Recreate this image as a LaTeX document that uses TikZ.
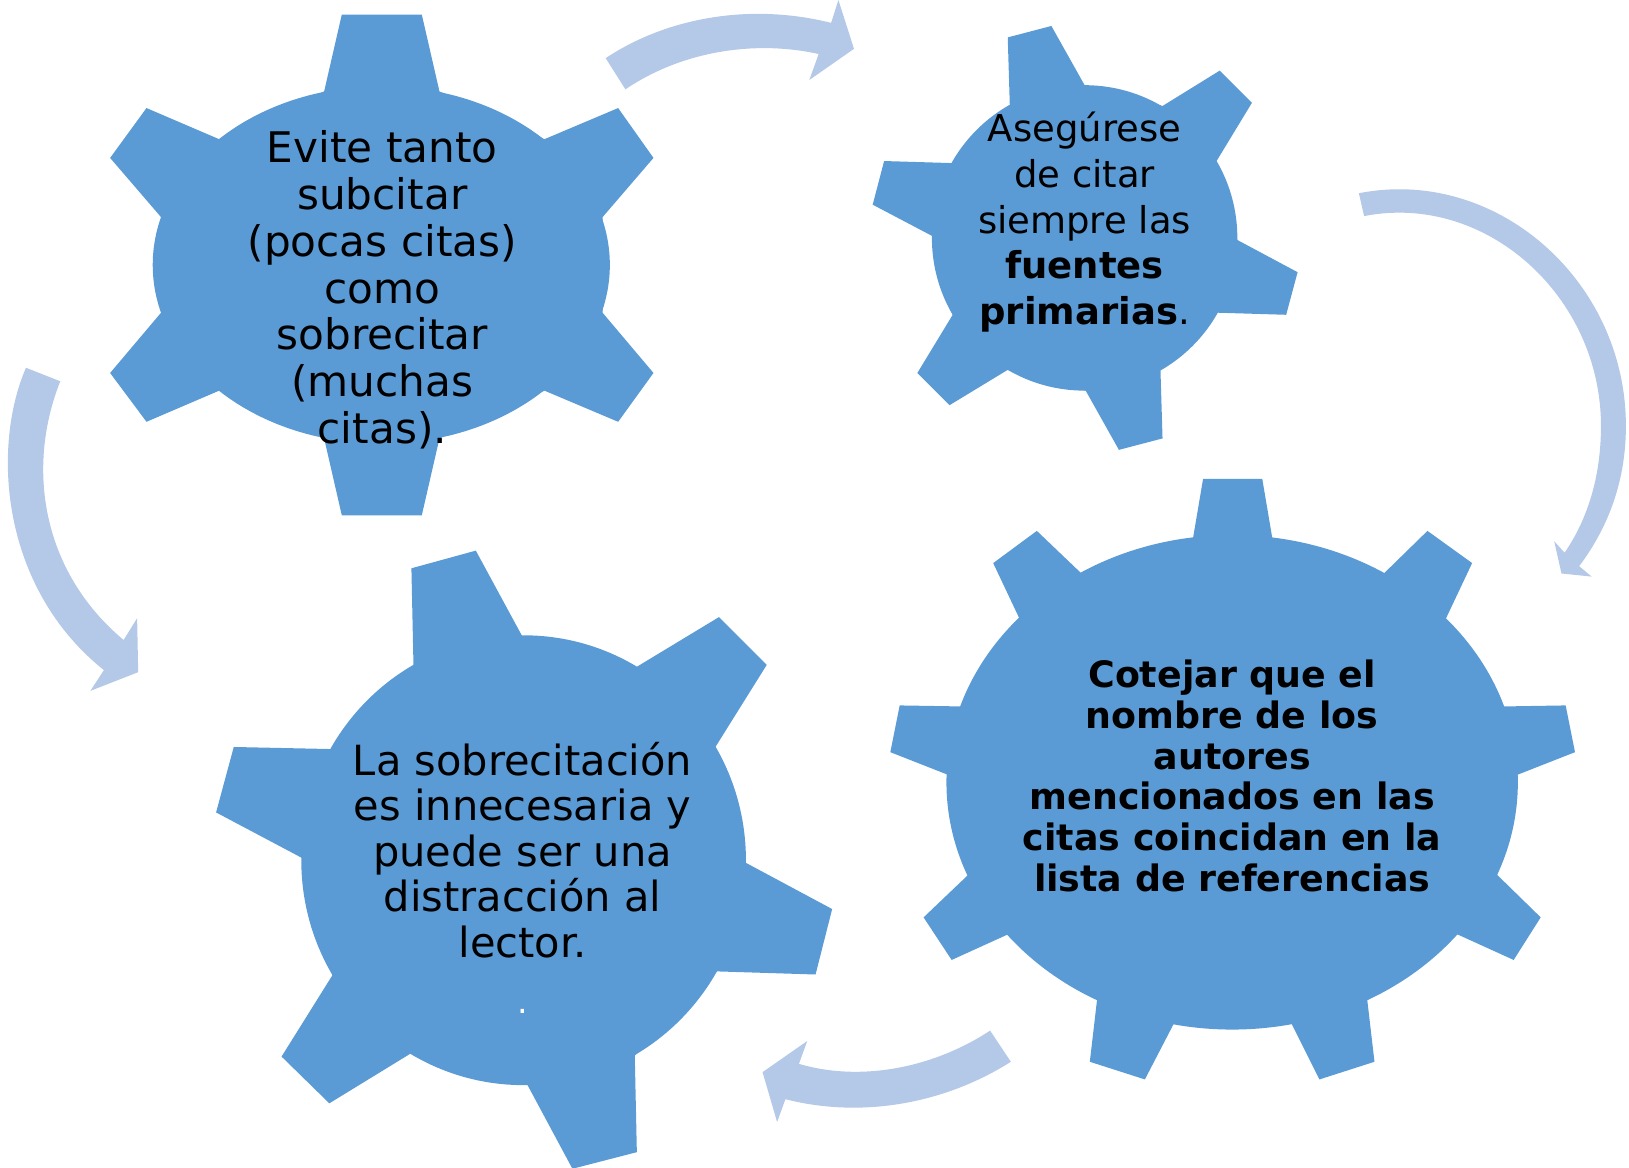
\documentclass[tikz,border=0pt]{standalone}
\usepackage{fontspec}
\setmainfont{DejaVu Sans}
\usepackage{tikz}
\definecolor{gearblue}{HTML}{5B9BD5}
\definecolor{arrowblue}{HTML}{B4C8E7}
\tikzset{
    gearfill/.style={fill=gearblue, draw=none},
    arrowfill/.style={fill=arrowblue, draw=none},
    gearlabel/.style={align=center, inner sep=0pt, text=black}
}
\begin{document}
\begin{tikzpicture}[x=0.5pt, y=-0.5pt]
  \useasboundingbox (0,0) rectangle (1568,1124);

  \fill[gearfill] (367,255) ellipse [x radius=220, y radius=172];
  \fill[gearfill] (329,14) -- (406,14) -- (423,88) -- (524,134) -- (595,104) -- (629,152) -- (580,209) -- (580,301) -- (629,359) -- (595,406) -- (524,376) -- (423,422) -- (406,496) -- (329,496) -- (312,422) -- (211,376) -- (141,406) -- (106,359) -- (155,301) -- (155,209) -- (106,152) -- (141,104) -- (211,134) -- (312,88) -- cycle;

  \fill[gearfill] (1044,229) circle [radius=147];
  \fill[gearfill] (970,36) -- (1012,25) -- (1044,82) -- (1119,102) -- (1174,68) -- (1205,99) -- (1171,155) -- (1191,231) -- (1249,262) -- (1238,303) -- (1172,301) -- (1117,356) -- (1119,422) -- (1077,433) -- (1045,376) -- (970,356) -- (914,390) -- (883,359) -- (917,303) -- (897,227) -- (840,197) -- (851,155) -- (917,157) -- (972,102) -- cycle;

  \fill[gearfill] (1186,753) ellipse [x radius=275, y radius=238];
  \fill[gearfill] (1158,461) -- (1215,461) -- (1225,520) -- (1331,553) -- (1374,511) -- (1417,542) -- (1391,597) -- (1447,680) -- (1507,679) -- (1516,724) -- (1460,746) -- (1441,842) -- (1483,883) -- (1457,924) -- (1402,899) -- (1316,962) -- (1323,1022) -- (1270,1039) -- (1243,985) -- (1130,985) -- (1102,1039) -- (1049,1022) -- (1056,962) -- (971,899) -- (916,924) -- (889,883) -- (932,842) -- (913,746) -- (857,724) -- (866,679) -- (926,680) -- (982,597) -- (956,542) -- (998,511) -- (1042,553) -- (1148,520) -- cycle;

  \fill[gearfill] (504,828) ellipse [x radius=214, y radius=216.5];
  \fill[gearfill] (396,547) -- (458,530) -- (503,613) -- (611,643) -- (692,594) -- (738,640) -- (688,720) -- (717,830) -- (801,875) -- (785,938) -- (690,935) -- (611,1016) -- (613,1109) -- (551,1125) -- (507,1043) -- (397,1013) -- (317,1062) -- (271,1017) -- (321,937) -- (291,826) -- (208,782) -- (225,719) -- (319,721) -- (398,641) -- cycle;

  \fill[arrowfill] (583,56) .. controls (640,18) and (720,2) .. (800,22) -- (807,0) -- (822,47) -- (779,77) -- (788,52) .. controls (725,38) and (655,50) .. (602,86) -- cycle;
  \fill[arrowfill] (1308,186) .. controls (1440,160) and (1565,270) .. (1565,410) .. controls (1565,460) and (1550,505) .. (1520,545) -- (1532,555) -- (1503,552) -- (1496,521) -- (1506,532) .. controls (1530,497) and (1541,455) .. (1541,410) .. controls (1541,285) and (1430,185) .. (1313,208) -- cycle;
  \fill[arrowfill] (953,992) .. controls (900,1027) and (830,1042) .. (769,1024) -- (777,1002) -- (734,1032) -- (748,1080) -- (756,1058) .. controls (830,1077) and (910,1062) .. (973,1022) -- cycle;
  \fill[arrowfill] (25,354) .. controls (-8,430) and (0,565) .. (100,645) -- (87,665) -- (133,647) -- (132,595) -- (119,616) .. controls (40,550) and (25,450) .. (58,367) -- cycle;

  \node (subcitar) [gearlabel, font=\fontsize{20.3}{22.5}\selectfont] at (368,279) {Evite tanto\\subcitar\\(pocas citas)\\como\\sobrecitar\\(muchas\\citas).};
  \node (fuentes) [gearlabel, font=\fontsize{17.8}{22}\selectfont] at (1044,214) {Asegúrese\\de citar\\siempre las\\\textbf{fuentes}\\\textbf{primarias}.};
  \node (autores) [gearlabel, font=\fontsize{17.5}{19.6}\selectfont\bfseries] at (1186,747) {Cotejar que el\\nombre de los\\autores\\mencionados en las\\citas coincidan en la\\lista de referencias};
  \node (lector) [gearlabel, font=\fontsize{20}{21.9}\selectfont] at (503,818) {La sobrecitación\\es innecesaria y\\puede ser una\\distracción al\\lector.};
  \node (punto) [gearlabel, text=white, anchor=base, font=\fontsize{16}{18}\selectfont] at (503,976) {.};
\end{tikzpicture}
\end{document}
